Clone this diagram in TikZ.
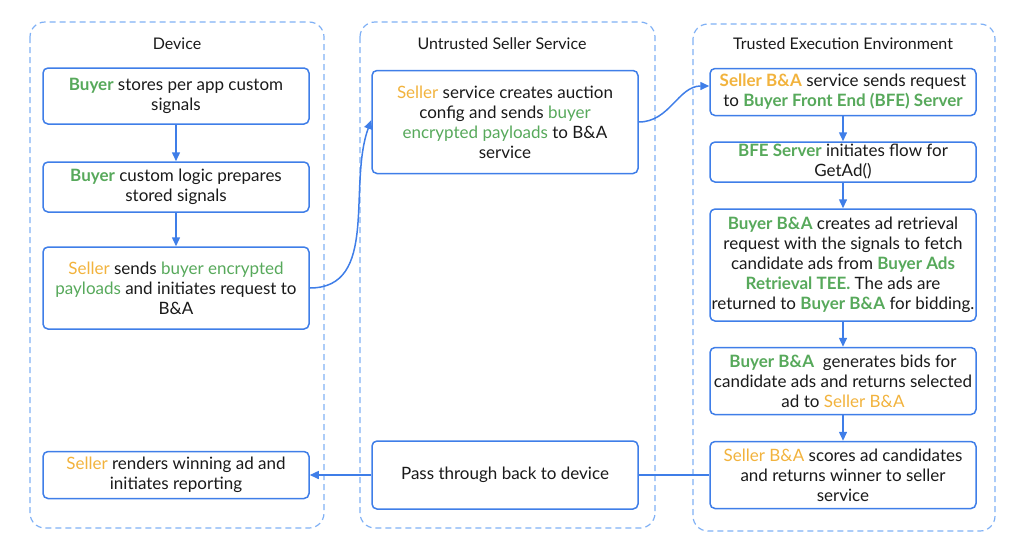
\documentclass[tikz,border=0pt]{standalone}
\usepackage{fontspec}
\setmainfont{Lato}
\usepackage{xcolor}
\usetikzlibrary{arrows.meta}
\usetikzlibrary{positioning}

\definecolor{boxblue}{HTML}{3F7EE8}
\definecolor{laneblue}{HTML}{7FB0F5}
\definecolor{bagreen}{HTML}{57A95B}
\definecolor{baorange}{HTML}{F2B33D}
\definecolor{txt}{HTML}{1A1A1A}

\newcommand{\grn}[1]{\textcolor{bagreen}{#1}}
\newcommand{\grnb}[1]{\textcolor{bagreen}{\bfseries #1}}
\newcommand{\ylw}[1]{\textcolor{baorange}{#1}}
\newcommand{\ylwb}[1]{\textcolor{baorange}{\bfseries #1}}

\begin{document}
\begin{tikzpicture}[
        x=1pt, y=-1pt,
        font=\fontsize{17}{20}\selectfont,
        text=txt,
        lane/.style={draw=laneblue, line width=1.2pt, dash pattern=on 6pt off 4pt, rounded corners=15pt},
        lanetitle/.style={font=\fontsize{16}{18}\selectfont},
        box/.style={draw=boxblue, line width=1.5pt, rounded corners=5pt, fill=white,
            align=center, inner sep=0pt, minimum width=266pt},
        flow/.style={-{Triangle[length=9pt, width=8pt]}, draw=boxblue, line width=1.5pt},
        link/.style={draw=boxblue, line width=1.5pt}
    ]
        \useasboundingbox (0,0) rectangle (1024,552);

        % --- Carriles ---
        \draw[lane] (30,22) rectangle (324,528);
        \draw[lane] (360,22) rectangle (655,528);
        \draw[lane] (693,24) rectangle (995,531);
        \node[lanetitle] (tdev) at (177,44) {Device};
        \node[lanetitle] (tuss) at (502,44) {Untrusted Seller Service};
        \node[lanetitle] (ttee) at (843,44) {Trusted Execution Environment};

        % --- Device ---
        \node[box, minimum height=56pt] (d1) at (176,96)
            {\grnb{Buyer} stores per app custom\\signals};
        \node[box, minimum height=50pt] (d2) at (176,187)
            {\grnb{Buyer} custom logic prepares\\stored signals};
        \node[box, minimum height=82pt] (d3) at (176,288)
            {\ylw{Seller} sends \grn{buyer encrypted}\\\grn{payloads} and initiates request to\\B\&A};
        \node[box, minimum height=47pt] (d4) at (176,475)
            {\ylw{Seller} renders winning ad and\\initiates reporting};

        % --- Untrusted Seller Service ---
        \node[box, minimum height=103pt] (u1) at (505,122)
            {\ylw{Seller} service creates auction\\config and sends \grn{buyer}\\\grn{encrypted payloads} to B\&A\\service};
        \node[box, minimum height=68pt] (u2) at (505,475)
            {Pass through back to device};

        % --- Trusted Execution Environment ---
        \node[box, minimum height=47pt] (t1) at (843,92)
            {\ylwb{Seller B\&A} service sends request\\to \grnb{Buyer Front End (BFE) Server}};
        \node[box, minimum height=40pt] (t2) at (843,162)
            {\grnb{BFE Server} initiates flow for\\GetAd()};
        \node[box, minimum height=112pt] (t3) at (843,265)
            {\grnb{Buyer B\&A} creates ad retrieval\\request with the signals to fetch\\candidate ads from \grnb{Buyer Ads}\\\grnb{Retrieval TEE.} The ads are\\returned to \grnb{Buyer B\&A} for bidding.};
        \node[box, minimum height=67pt] (t4) at (843,381)
            {\grnb{Buyer B\&A}\ \ generates bids for\\candidate ads and returns selected\\ad to \ylw{Seller B\&A}};
        \node[box, minimum height=67pt] (t5) at (843,475)
            {\ylw{Seller B\&A} scores ad candidates\\and returns winner to seller\\service};

        % --- Conexiones ---
        \draw[flow] (d1) -- (d2);
        \draw[flow] (d2) -- (d3);
        \draw[flow] (d3.east) to[out=0, in=250] ([yshift=2pt]u1.west);
        \draw[flow] (u1.east) to[out=0, in=180] ([yshift=6pt]t1.west);
        \draw[flow] (t1) -- (t2);
        \draw[flow] (t2) -- (t3);
        \draw[flow] (t3) -- (t4);
        \draw[flow] (t4) -- (t5);
        \draw[link] (t5.west) -- (u2.east);
        \draw[flow] (u2.west) -- (d4.east);

    \end{tikzpicture}
\end{document}
